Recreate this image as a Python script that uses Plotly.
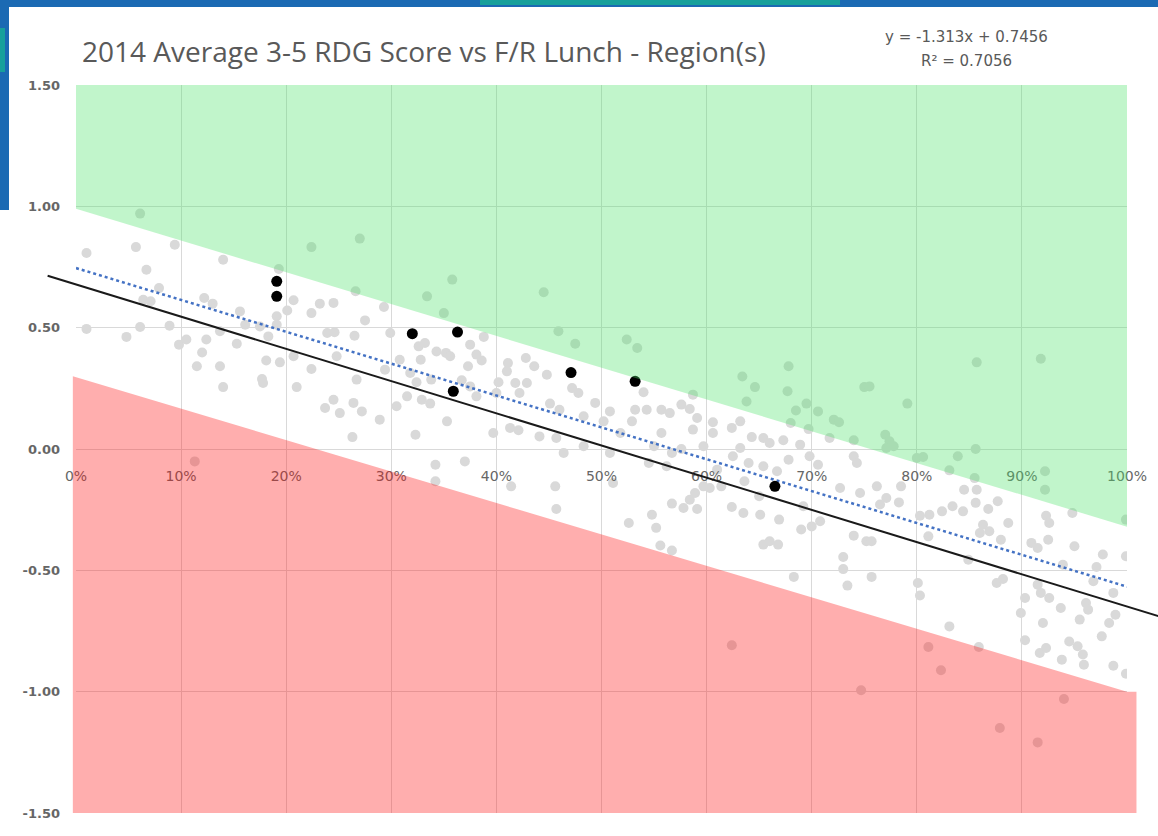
import plotly.graph_objects as go

# F/R lunch share (x) vs 2014 average 3-5 RDG score (y), every school
all_frl = [
    0.061, 0.010, 0.057, 0.094, 0.140, 0.224, 0.067, 0.193, 0.079, 0.064, 0.071, 0.122, 0.130, 0.156, 0.207, 0.201,
    0.232, 0.224, 0.010, 0.061, 0.089, 0.048, 0.098, 0.105, 0.124, 0.137, 0.153, 0.161, 0.175, 0.183, 0.191, 0.191,
    0.120, 0.115, 0.137, 0.181, 0.194, 0.207, 0.224, 0.177, 0.178, 0.140, 0.210, 0.237, 0.113, 0.239,
    0.270, 0.358, 0.266, 0.334, 0.350, 0.445, 0.459, 0.475, 0.245, 0.293, 0.275, 0.246, 0.265, 0.299, 0.308, 0.326,
    0.332, 0.343, 0.352, 0.356, 0.375, 0.381, 0.386, 0.388, 0.373, 0.328, 0.318, 0.294, 0.267, 0.248, 0.324, 0.338,
    0.367, 0.375, 0.381, 0.402, 0.411, 0.410, 0.428, 0.436, 0.448, 0.418, 0.429, 0.422, 0.400, 0.472, 0.478, 0.494,
    0.451, 0.460, 0.483, 0.315, 0.305, 0.329, 0.337, 0.264, 0.272, 0.251, 0.289, 0.353, 0.323, 0.263, 0.397, 0.413,
    0.421, 0.441, 0.457, 0.483, 0.464, 0.370, 0.342, 0.245, 0.342, 0.414, 0.456, 0.457,
    0.524, 0.534, 0.634, 0.646, 0.638, 0.678, 0.677, 0.685, 0.695, 0.706, 0.721, 0.726, 0.740, 0.750, 0.587, 0.680,
    0.697, 0.540, 0.508, 0.532, 0.543, 0.557, 0.565, 0.576, 0.584, 0.591, 0.529, 0.502, 0.557, 0.587, 0.606, 0.606,
    0.624, 0.632, 0.643, 0.654, 0.660, 0.673, 0.689, 0.632, 0.625, 0.597, 0.576, 0.567, 0.550, 0.545, 0.562, 0.640,
    0.654, 0.667, 0.678, 0.698, 0.706, 0.740, 0.743, 0.717, 0.610, 0.518, 0.508,
    0.511, 0.567, 0.578, 0.591, 0.584, 0.589, 0.597, 0.603, 0.548, 0.526, 0.552, 0.556, 0.567, 0.624, 0.635, 0.651,
    0.669, 0.614, 0.636, 0.654, 0.660, 0.668, 0.690, 0.700, 0.708, 0.683, 0.730, 0.730, 0.734, 0.740, 0.752, 0.624,
    0.747, 0.727, 0.746, 0.692, 0.650,
    0.762, 0.771, 0.765, 0.783, 0.785, 0.803, 0.812, 0.824, 0.834, 0.844, 0.845, 0.856, 0.857, 0.868, 0.877, 0.863,
    0.869, 0.860, 0.887, 0.880, 0.811, 0.757, 0.849, 0.801, 0.803, 0.757, 0.876, 0.882, 0.831, 0.811, 0.823, 0.859,
    0.903, 0.899, 0.903, 0.879, 0.915, 0.940, 0.909, 0.915, 0.925, 0.923, 0.926, 0.948, 0.950, 0.939, 0.915, 0.926,
    0.918, 0.937, 0.920, 0.917, 0.923, 0.938, 0.945, 0.953, 0.955, 0.958, 0.959, 0.961, 0.963, 0.971, 0.977, 0.968,
    0.976, 0.983, 0.989, 0.987, 0.999, 0.999, 0.999, 0.987, 0.922,
    0.857, 0.918, 0.791, 0.770, 0.774, 0.778, 0.771, 0.800, 0.806, 0.839, 0.856, 0.831, 0.855, 0.922, 0.755,
]
all_score = [
    0.970, 0.808, 0.832, 0.842, 0.780, 0.832, 0.739, 0.742, 0.663, 0.615, 0.609, 0.622, 0.599, 0.567, 0.613, 0.571,
    0.599, 0.560, 0.495, 0.503, 0.508, 0.462, 0.430, 0.451, 0.451, 0.485, 0.434, 0.512, 0.505, 0.464, 0.547, 0.512,
    0.398, 0.341, 0.341, 0.365, 0.357, 0.382, 0.330, 0.288, 0.272, 0.255, 0.255, 0.169, -0.051, 0.478,
    0.867, 0.698, 0.650, 0.629, 0.560, 0.646, 0.485, 0.434, 0.602, 0.585, 0.530, 0.481, 0.467, 0.478, 0.368, 0.423,
    0.437, 0.402, 0.396, 0.382, 0.430, 0.389, 0.365, 0.462, 0.341, 0.368, 0.313, 0.327, 0.286, 0.382, 0.275, 0.286,
    0.283, 0.258, 0.217, 0.275, 0.354, 0.320, 0.375, 0.341, 0.306, 0.272, 0.272, 0.231, 0.231, 0.251, 0.231, 0.190,
    0.187, 0.162, 0.135, 0.217, 0.176, 0.203, 0.187, 0.190, 0.155, 0.148, 0.121, 0.114, 0.059, 0.049, 0.066, 0.087,
    0.077, 0.052, 0.045, 0.011, -0.016, -0.051, -0.065, 0.203, -0.133, -0.154, -0.154, -0.247,
    0.451, 0.416, 0.299, 0.255, 0.196, 0.341, 0.238, 0.159, 0.187, 0.155, 0.121, 0.110, 0.036, 0.255, 0.224, 0.107,
    0.082, 0.234, 0.155, 0.162, 0.162, 0.162, 0.148, 0.183, 0.165, 0.128, 0.114, 0.114, 0.066, 0.080, 0.110, 0.066,
    0.087, 0.114, 0.049, 0.045, 0.025, 0.036, 0.018, 0.004, -0.030, 0.011, 0.000, -0.016, 0.011, -0.058, -0.071, -0.058,
    -0.071, -0.092, -0.044, -0.030, -0.065, -0.030, -0.058, 0.045, -0.085, 0.066, -0.016,
    -0.140, -0.225, -0.243, -0.247, -0.209, -0.181, -0.154, -0.161, -0.271, -0.305, -0.325, -0.398, -0.418, -0.239, -0.264, -0.271,
    -0.291, -0.154, -0.133, -0.394, -0.380, -0.394, -0.332, -0.319, -0.298, -0.527, -0.445, -0.495, -0.563, -0.357, -0.380, -0.809,
    -0.994, -0.161, -0.181, -0.236, -0.195,
    -0.154, -0.202, -0.229, -0.220, -0.154, -0.275, -0.271, -0.257, -0.236, -0.257, -0.168, -0.222, -0.168, -0.247, -0.215, -0.312,
    -0.339, -0.346, -0.305, -0.374, -0.360, -0.380, -0.456, -0.552, -0.604, -0.527, -0.552, -0.536, -0.731, -0.816, -0.912, -0.816,
    -0.614, -0.676, -0.788, -1.150, -1.209, -1.030, -0.387, -0.408, -0.374, -0.275, -0.305, -0.264, -0.401, -0.477, -0.559, -0.614,
    -0.593, -0.655, -0.717, -0.841, -0.820, -0.868, -0.793, -0.813, -0.703, -0.847, -0.889, -0.635, -0.662, -0.486, -0.435, -0.545,
    -0.772, -0.717, -0.683, -0.893, -0.442, -0.926, -0.291, -0.593, -0.168,
    0.357, 0.372, 0.187, 0.059, 0.032, 0.011, 0.004, -0.037, -0.033, -0.030, 0.000, -0.088, -0.120, -0.092, 0.258,
]

# schools in the selected region(s)
region_frl = [0.191, 0.191, 0.320, 0.363, 0.359, 0.471, 0.532, 0.665]
region_score = [0.691, 0.629, 0.475, 0.482, 0.238, 0.315, 0.279, -0.154]

# Excel linear trendline of all schools
trend_slope = -1.313
trend_intercept = 0.7456
trend_r2 = 0.7056
trend_x = [0.0, 1.0]

# hand drawn black reference line (runs past the plot edges)
ref_slope = -1.327
ref_intercept = 0.678
ref_x = [-0.027, 1.03]

# shaded bands
green_x = [0.0, 0.0, 1.0, 1.0]
green_y = [1.5, 0.99, -0.32, 1.5]
red_x = [-0.003, 1.0, 1.009, 1.009, -0.003]
red_y = [0.30, -1.0, -1.0, -1.52, -1.52]

x_ticks = [0, 0.1, 0.2, 0.3, 0.4, 0.5, 0.6, 0.7, 0.8, 0.9, 1.0]
x_labels = ["0%", "10%", "20%", "30%", "40%", "50%", "60%", "70%", "80%", "90%", "100%"]
y_ticks = [1.5, 1.0, 0.5, 0.0, -0.5, -1.0, -1.5]
y_labels = ["1.50", "1.00", "0.50", "0.00", "-0.50", "-1.00", "-1.50"]

W, H = 1158, 836
ML, MR, MT, MB = 76, 31, 85, 23


def path_of(xs, ys):
    pts = [f"{x},{y}" for x, y in zip(xs, ys)]
    return "M " + " L ".join(pts) + " Z"


def px_x(px):
    return (px - ML) / (W - ML - MR)


def px_y(py):
    return (H - MB - py) / (H - MT - MB)


fig = go.Figure()

fig.add_trace(go.Scatter(
    x=all_frl, y=all_score, mode="markers",
    marker=dict(size=10, color="#d9d9d9", line=dict(width=0)),
    hoverinfo="skip"))

fig.add_trace(go.Scatter(
    x=trend_x, y=[trend_intercept + trend_slope * x for x in trend_x], mode="lines",
    line=dict(color="#4472c4", width=2.5, dash="dot"), hoverinfo="skip"))

fig.add_trace(go.Scatter(
    x=region_frl, y=region_score, mode="markers",
    marker=dict(size=11, color="black", line=dict(width=0))))

shapes = [
    dict(type="path", xref="x", yref="y", path=path_of(green_x, green_y),
         fillcolor="rgb(78,226,106)", opacity=0.35, line=dict(width=0), layer="above"),
    dict(type="path", xref="paper", yref="y", path=path_of(red_x, red_y),
         fillcolor="rgb(255,24,24)", opacity=0.35, line=dict(width=0), layer="above"),
    dict(type="line", xref="paper", yref="y",
         x0=ref_x[0], y0=ref_intercept + ref_slope * ref_x[0],
         x1=ref_x[1], y1=ref_intercept + ref_slope * ref_x[1],
         line=dict(color="#1a1a1a", width=2), layer="above"),
    # slide decoration around the chart
    dict(type="rect", xref="paper", yref="paper", x0=px_x(0), x1=px_x(W), y0=px_y(7), y1=px_y(0),
         fillcolor="#1b6ab3", line=dict(width=0), layer="above"),
    dict(type="rect", xref="paper", yref="paper", x0=px_x(480), x1=px_x(840), y0=px_y(5), y1=px_y(0),
         fillcolor="#17a09b", line=dict(width=0), layer="above"),
    dict(type="rect", xref="paper", yref="paper", x0=px_x(0), x1=px_x(9), y0=px_y(210), y1=px_y(0),
         fillcolor="#1b6ab3", line=dict(width=0), layer="above"),
    dict(type="rect", xref="paper", yref="paper", x0=px_x(0), x1=px_x(5), y0=px_y(72), y1=px_y(28),
         fillcolor="#17a09b", line=dict(width=0), layer="above"),
]

eq_text = f"y = {trend_slope}x + {trend_intercept}"
r2_text = f"R² = {trend_r2}"

fig.update_layout(
    width=W, height=H,
    margin=dict(l=ML, r=MR, t=MT, b=MB),
    template="none",
    plot_bgcolor="white", paper_bgcolor="white",
    showlegend=False,
    shapes=shapes,
    title=dict(
        text="2014 Average 3-5 RDG Score vs F/R Lunch - Region(s)",
        xref="container", yref="container", x=82 / W, y=1 - 52 / H,
        xanchor="left", yanchor="middle",
        font=dict(family="Open Sans", size=28, color="#595959")),
    annotations=[
        dict(text=eq_text, xref="paper", yref="paper", x=px_x(966), y=px_y(37),
             showarrow=False, xanchor="center", yanchor="middle",
             font=dict(family="DejaVu Sans", size=15, color="#595959")),
        dict(text=r2_text, xref="paper", yref="paper", x=px_x(966), y=px_y(61),
             showarrow=False, xanchor="center", yanchor="middle",
             font=dict(family="DejaVu Sans", size=15, color="#595959")),
    ],
)

fig.update_xaxes(
    range=[0, 1], tickvals=x_ticks, ticktext=x_labels,
    showgrid=True, gridcolor="#d9d9d9", gridwidth=1,
    zeroline=False, showline=False, ticks="",
    anchor="free", position=0.5, automargin=False,
    ticklabelstandoff=17,
    tickfont=dict(family="DejaVu Sans", size=14, color="#666666"))

fig.update_yaxes(
    range=[-1.5, 1.5], tickvals=y_ticks, ticktext=y_labels,
    showgrid=True, gridcolor="#d9d9d9", gridwidth=1,
    zeroline=False, showline=False, ticks="", automargin=False,
    ticklabelstandoff=15,
    tickfont=dict(family="DejaVu Sans", size=13, color="#666666", weight="bold"))

fig.write_html(
    "out.html",
    config={"displayModeBar": False},
    post_script="document.body.style.margin='0px'; document.body.style.overflow='hidden';")
